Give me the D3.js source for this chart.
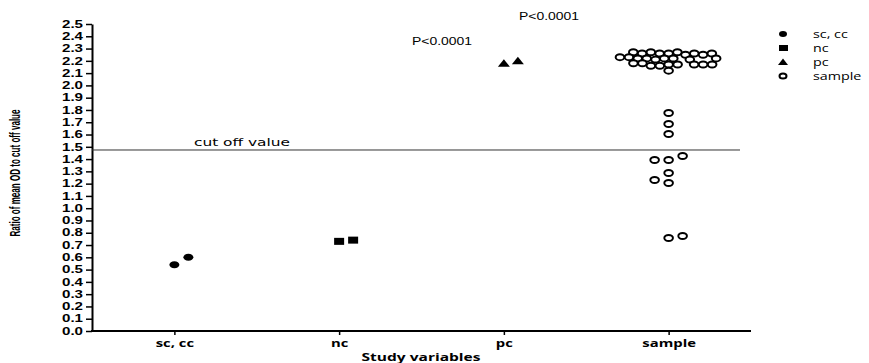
<!DOCTYPE html>
<html lang="en">
<head>
  <meta charset="UTF-8">
  <title>Ratio of mean OD</title>
  <script src="https://cdn.jsdelivr.net/npm/d3@7"></script>
  <style>
    body { margin: 0; background: #fff; }
  </style>
</head>
<body>
  <div id="chart"></div>
  <script>
    // data
    const categories = ["sc, cc", "nc", "pc", "sample"];
    const scccValues = [0.54, 0.60];
    const ncValues = [0.73, 0.74];
    const pcValues = [2.18, 2.20];
    const sampleValues = [
      0.757, 0.774, 1.205, 1.23, 1.287, 1.392, 1.425, 1.392, 1.604, 1.686, 1.775,
      2.26, 2.27, 2.26, 2.25, 2.27, 2.26, 2.26, 2.25, 2.27, 2.26,
      2.22, 2.23, 2.22, 2.21, 2.22, 2.23, 2.22, 2.21, 2.22,
      2.17, 2.16, 2.17, 2.18, 2.17, 2.16, 2.17, 2.18, 2.17,
      2.12
    ];
    const yTicks = d3.range(0, 26).map(i => i / 10);
    const cutOff = 1.474;
    const legendLabels = ["sc, cc", "nc", "pc", "sample"];

    const W = 869, H = 363;
    const svg = d3.select("#chart").append("svg")
      .attr("width", W).attr("height", H);

    const x = d3.scalePoint().domain(categories).range([92, 751]).padding(0.5);
    const y = d3.scaleLinear().domain([0, 2.5]).range([331, 24]);

    // stretch text horizontally like the source image
    function widen(sel, k) {
      sel.each(function () {
        const w = this.getComputedTextLength();
        d3.select(this).attr("textLength", w * k).attr("lengthAdjust", "spacingAndGlyphs");
      });
    }

    // y axis
    const yAxis = svg.append("g")
      .attr("transform", "translate(92,0)")
      .call(d3.axisLeft(y).tickValues(yTicks).tickFormat(d3.format(".1f")).tickSize(6).tickSizeOuter(0));
    yAxis.select(".domain").attr("stroke-width", 2);
    yAxis.selectAll(".tick line").attr("stroke-width", 1.5);
    yAxis.selectAll(".tick text")
      .attr("x", -9)
      .attr("font-family", "Liberation Sans, Arial, sans-serif")
      .attr("font-weight", "bold")
      .attr("font-size", 10)
      .attr("textLength", 21)
      .attr("lengthAdjust", "spacingAndGlyphs")
      .attr("fill", "#000");

    // x axis
    const xAxis = svg.append("g")
      .attr("transform", "translate(0,331)")
      .call(d3.axisBottom(x).tickSize(4).tickSizeOuter(0).tickPadding(5));
    xAxis.select(".domain").attr("stroke-width", 2).attr("d", "M91,0H751");
    xAxis.selectAll(".tick line").attr("stroke-width", 1.5);
    xAxis.selectAll(".tick text")
      .attr("y", 16)
      .attr("dy", 0)
      .attr("font-family", "Open Sans, sans-serif")
      .attr("font-weight", "bold")
      .attr("font-size", 11)
      .attr("fill", "#000")
      .call(widen, 1.35);

    // axis titles
    svg.append("text")
      .attr("transform", "translate(20,173) rotate(-90)")
      .attr("text-anchor", "middle")
      .attr("font-family", "Liberation Sans Narrow, Liberation Sans, Arial, sans-serif")
      .attr("font-size", 15)
      .attr("font-weight", "bold")
      .attr("textLength", 127)
      .attr("lengthAdjust", "spacingAndGlyphs")
      .text("Ratio of mean OD to cut off value");

    svg.append("text")
      .attr("x", 421).attr("y", 361)
      .attr("text-anchor", "middle")
      .attr("font-family", "Open Sans, sans-serif")
      .attr("font-weight", "bold")
      .attr("font-size", 11)
      .attr("textLength", 119)
      .attr("lengthAdjust", "spacingAndGlyphs")
      .text("Study variables");

    // cut off line
    svg.append("line")
      .attr("x1", 92).attr("x2", 740)
      .attr("y1", y(cutOff)).attr("y2", y(cutOff))
      .attr("stroke", "#333").attr("stroke-width", 1);
    svg.append("text")
      .attr("x", 194).attr("y", y(cutOff) - 4)
      .attr("font-family", "DejaVu Sans, sans-serif")
      .attr("font-size", 10.5)
      .attr("textLength", 96)
      .attr("lengthAdjust", "spacingAndGlyphs")
      .text("cut off value");

    // p-value labels
    const pLabels = [{ x: 412, y: 45 }, { x: 519, y: 20 }];
    svg.selectAll(".plabel").data(pLabels).join("text")
      .attr("class", "plabel")
      .attr("x", d => d.x).attr("y", d => d.y)
      .attr("font-family", "Liberation Sans, Arial, sans-serif")
      .attr("font-size", 10)
      .attr("textLength", 60)
      .attr("lengthAdjust", "spacingAndGlyphs")
      .text("P<0.0001");

    // scatter layout: sparse points go in 14px columns, crowded ones get
    // packed tighter (ellipse collision) like the original plot does
    function swarm(values, cat) {
      const cx = x(cat);
      const placed = [];
      let side = 1;
      return values.map(v => {
        const py = y(v);
        const crowded = values.filter(u => Math.abs(u - v) <= 0.15).length > 8;
        let cands, hits;
        if (!crowded) {
          const STEP = 14, RY = 8.5;
          hits = dx => placed.some(p => Math.abs(dx - p.dx) < STEP - 0.01 && Math.abs(py - p.y) < RY);
          cands = d3.range(0, 12).flatMap(i => i === 0 ? [0] : [i * STEP, -i * STEP]);
        } else {
          const RX = 9, RY = 5.6;
          hits = dx => placed.some(p => {
            const a = (dx - p.dx) / RX, b = (py - p.y) / RY;
            return a * a + b * b < 0.999;
          });
          cands = [0];
          placed.forEach(p => {
            const dy = (py - p.y) / RY;
            if (Math.abs(dy) < 1) {
              const w = RX * Math.sqrt(1 - dy * dy);
              cands.push(p.dx + w, p.dx - w);
            }
          });
        }
        cands = cands.filter(c => !hits(c));
        cands.sort((a, b) => (Math.abs(a) - Math.abs(b)) || (side * (b - a)));
        const dx = cands[0];
        if (dx !== 0) side = dx > 0 ? -1 : 1;
        const pt = { v, dx, y: py, x: cx + dx };
        placed.push(pt);
        return pt;
      });
    }

    svg.append("g").selectAll("ellipse")
      .data(swarm(scccValues, "sc, cc")).join("ellipse")
      .attr("cx", d => d.x).attr("cy", d => d.y)
      .attr("rx", 5).attr("ry", 3.5).attr("fill", "#000");

    svg.append("g").selectAll("rect")
      .data(swarm(ncValues, "nc")).join("rect")
      .attr("x", d => d.x - 5).attr("y", d => d.y - 3.5)
      .attr("width", 10).attr("height", 7).attr("fill", "#000");

    svg.append("g").selectAll("path")
      .data(swarm(pcValues, "pc")).join("path")
      .attr("d", d => `M${d.x - 6},${d.y + 3.5}L${d.x},${d.y - 4}L${d.x + 6},${d.y + 3.5}Z`)
      .attr("fill", "#000");

    svg.append("g").selectAll("ellipse")
      .data(swarm(sampleValues, "sample")).join("ellipse")
      .attr("cx", d => d.x).attr("cy", d => d.y)
      .attr("rx", 4.3).attr("ry", 3).attr("fill", "#fff")
      .attr("stroke", "#000").attr("stroke-width", 2);

    // legend
    const lg = svg.append("g");
    const rowY = d => 34 + d * 14;
    legendLabels.forEach((lab, i) => {
      const cy = rowY(i);
      if (i === 0) lg.append("ellipse").attr("cx", 783).attr("cy", cy).attr("rx", 4).attr("ry", 3).attr("fill", "#000");
      if (i === 1) lg.append("rect").attr("x", 779).attr("y", cy - 3).attr("width", 9).attr("height", 6).attr("fill", "#000");
      if (i === 2) lg.append("path").attr("d", `M778,${cy + 3}L783,${cy - 3.5}L788,${cy + 3}Z`).attr("fill", "#000");
      if (i === 3) lg.append("ellipse").attr("cx", 783).attr("cy", cy).attr("rx", 3.5).attr("ry", 2.5)
        .attr("fill", "#fff").attr("stroke", "#000").attr("stroke-width", 2);
      lg.append("text")
        .attr("x", 813).attr("y", cy + 4)
        .attr("font-family", "Open Sans, sans-serif")
        .attr("font-size", 11)
        .text(lab)
        .call(widen, 1.3);
    });
  </script>
</body>
</html>
